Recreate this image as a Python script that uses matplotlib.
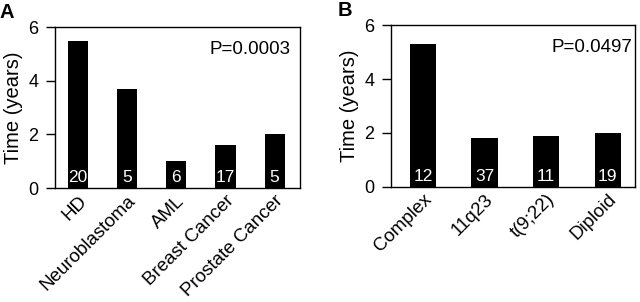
import matplotlib.pyplot as plt
import numpy as np

plt.rcParams['font.family'] = ['Liberation Sans', 'DejaVu Sans']

# panel A
cancers = ['HD', 'Neuroblastoma', 'AML', 'Breast Cancer', 'Prostate Cancer']
time_a = [5.5, 3.7, 1.0, 1.6, 2.0]
n_a = [20, 5, 6, 17, 5]
p_a = 'P=0.0003'

# panel B
karyo = ['Complex', '11q23', 't(9;22)', 'Diploid']
time_b = [5.3, 1.8, 1.9, 2.0]
n_b = [12, 37, 11, 19]
p_b = 'P=0.0497'


def panel(ax, labels, vals, counts, ptxt, pxy, letter, lx, width, xlim):
    x = np.arange(len(labels))
    ax.bar(x, vals, width=width, color='black')
    for xi, c in zip(x, counts):
        ax.text(xi, 0.22, str(c), color='white', ha='center', va='baseline',
                fontsize=12.5)
    ax.set_xlim(*xlim)
    ax.set_ylim(0, 6)
    ax.set_yticks([0, 2, 4, 6])
    ax.set_xticks(x)
    ax.set_xticklabels(labels, rotation=45, ha='right', va='top',
                       rotation_mode='anchor', fontsize=13.5)
    ax.tick_params(axis='x', length=0, pad=3)
    ax.tick_params(axis='y', length=6.5, width=1, labelsize=13, pad=5.5)
    ax.set_ylabel('Time (years)', fontsize=14.5, labelpad=3.5)
    for s in ax.spines.values():
        s.set_linewidth(1.0)
    ax.text(pxy[0], pxy[1], ptxt, transform=ax.transAxes, ha='right',
            va='center', fontsize=13.5)
    ax.text(lx, 1.055, letter, transform=ax.transAxes, ha='center',
            va='baseline', fontsize=14.5, fontweight='bold')


fig = plt.figure(figsize=(6.4, 3.02), dpi=100)
ax1 = fig.add_axes([0.086, 0.377, 0.383, 0.533])
ax2 = fig.add_axes([0.611, 0.381, 0.381, 0.536])

panel(ax1, cancers, time_a, n_a, p_a, (0.96, 0.863), 'A', -0.195,
      0.41, (-0.47, 4.52))
panel(ax2, karyo, time_b, n_b, p_b, (0.988, 0.864), 'B', -0.19,
      0.43, (-0.52, 3.44))

fig.savefig('out.png', dpi=100)
